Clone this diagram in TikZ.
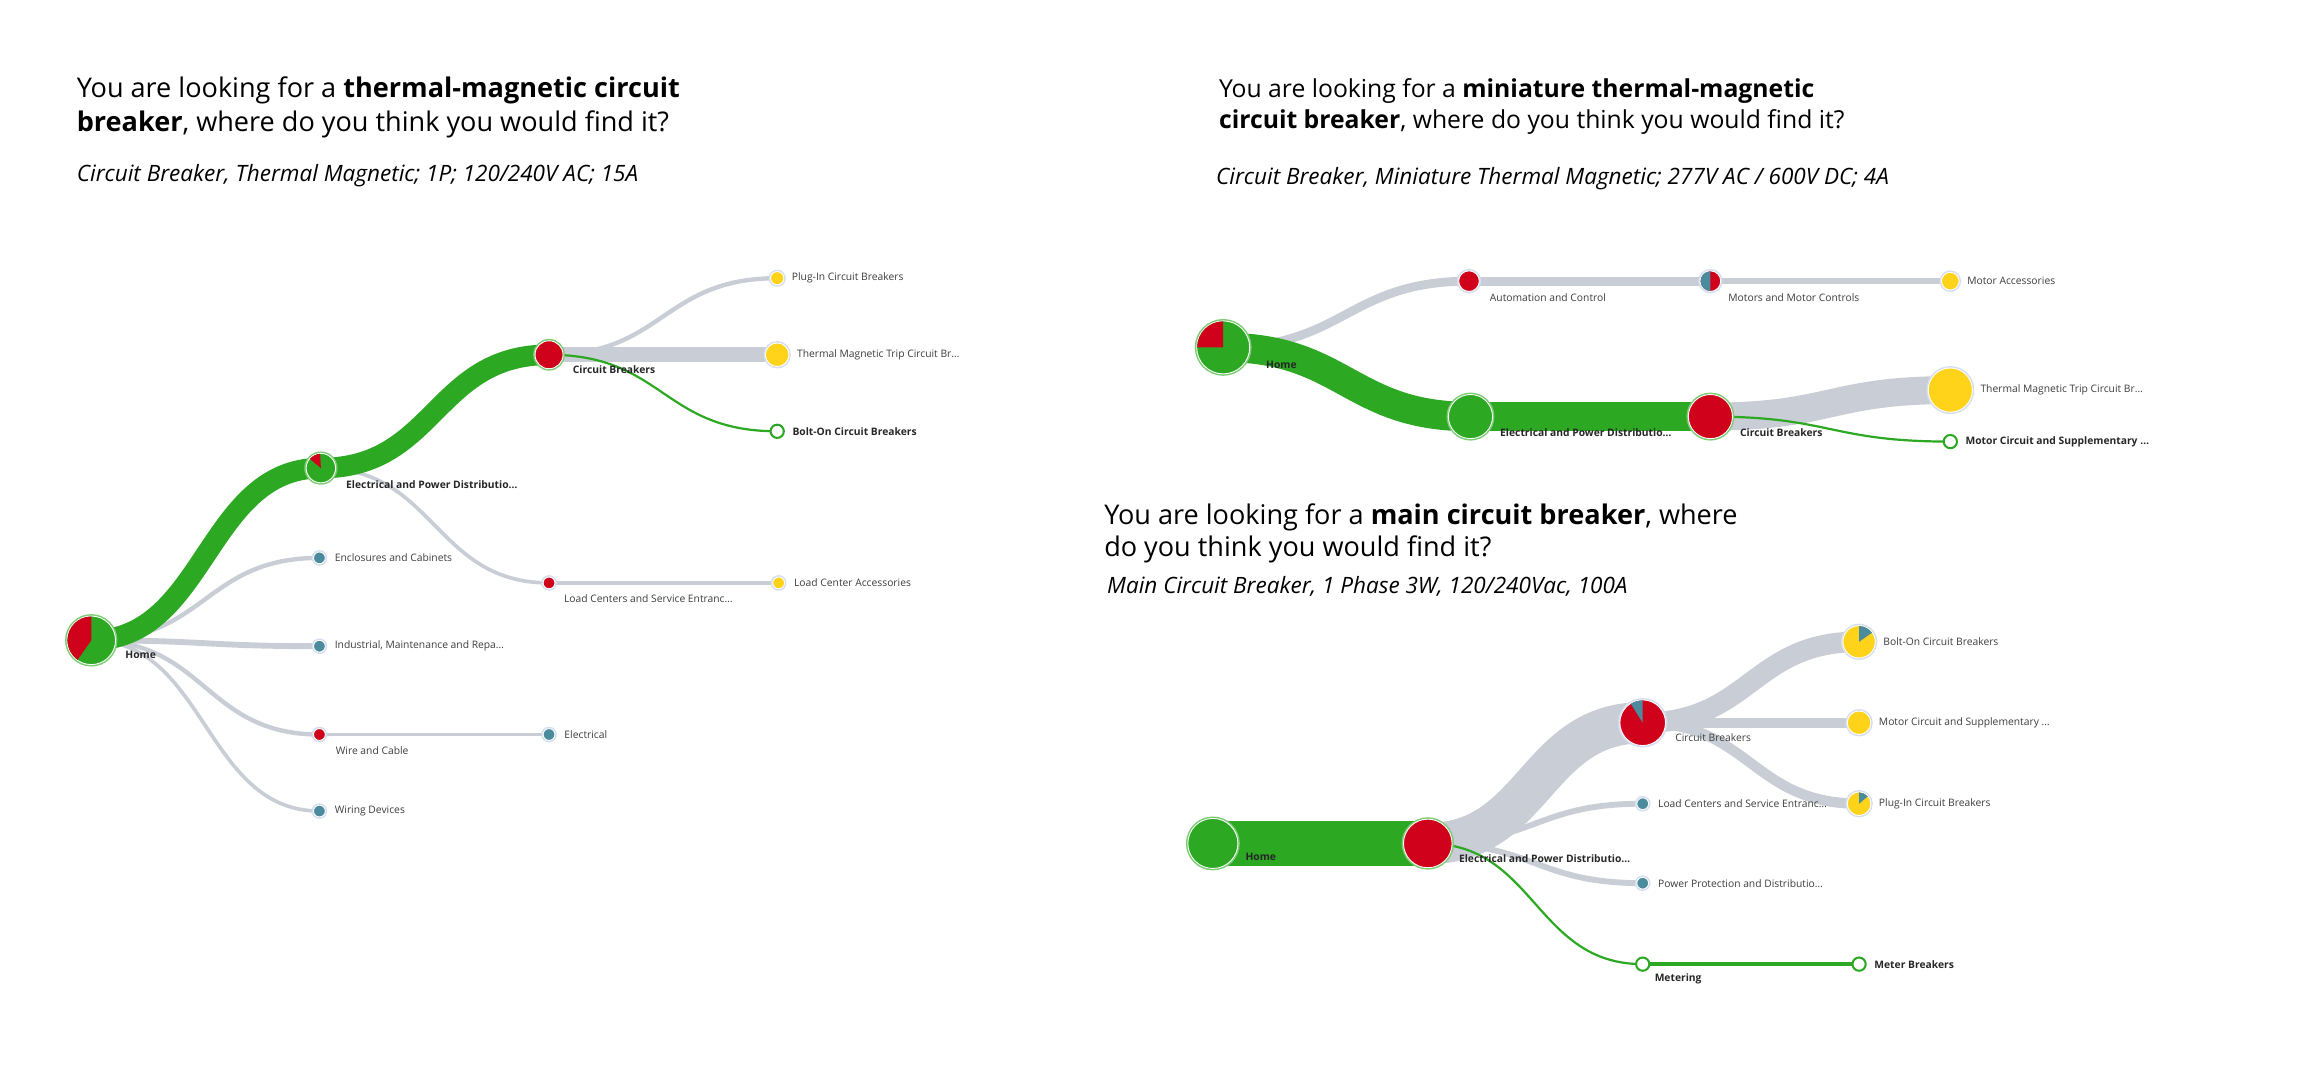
\documentclass[tikz,border=0pt]{standalone}
\usepackage{fontspec}
\setmainfont{Open Sans}
\usetikzlibrary{positioning}
\pgfdeclarelayer{bg}
\pgfsetlayers{bg,main}

\definecolor{cbgreen}{RGB}{44,168,35}
\definecolor{cbred}{RGB}{208,2,27}
\definecolor{cbyellow}{RGB}{255,211,26}
\definecolor{cbteal}{RGB}{74,139,158}
\definecolor{cbgray}{RGB}{201,206,214}
\definecolor{halogreen}{RGB}{122,203,114}
\definecolor{haloblue}{RGB}{213,222,238}
\definecolor{lblgray}{RGB}{60,60,60}

\tikzset{
  flow/.style={draw=cbgray},
  hit/.style={draw=cbgreen},
  dot/.style n args={3}{circle, inner sep=0pt, minimum size=#1, fill=#2,
    draw=white, line width=0.6pt, preaction={draw=#3, line width=2.6pt}},
  hollow/.style={circle, inner sep=0pt, minimum size=9pt, fill=white,
    draw=cbgreen, line width=1.4pt},
  lbl/.style={inner sep=1pt, text=lblgray, font=\fontsize{7}{8}\selectfont},
  lblb/.style={inner sep=1pt, text=black!85, font=\fontsize{7}{8}\selectfont\bfseries},
  quest/.style={anchor=base west, inner sep=0pt, font=\fontsize{18.4}{22}\selectfont},
  quests/.style={quest, font=\fontsize{16.8}{20}\selectfont},
  subq/.style={anchor=base west, inner sep=0pt, font=\fontsize{15.3}{18}\selectfont\itshape},
}

% komad pite: cvor, od, do, poluprecnik, boja
\newcommand{\pieslice}[5]{%
  \fill [#5] (#1.center) -- ++(#2:#4) arc [start angle=#2, end angle=#3, radius=#4] -- cycle;}

\begin{document}
\begin{tikzpicture}[x=1pt, y=-1pt]
    \useasboundingbox (0,0) rectangle (1568,724);

    % pitanja
    \node [quest] (aQ1) at (52,66) {You are looking for a \textbf{thermal-magnetic circuit}};
    \node [quest] (aQ2) at (52,89) {\textbf{breaker}, where do you think you would find it?};
    \node [subq] (aSub) at (52,123) {Circuit Breaker, Thermal Magnetic; 1P; 120/240V AC; 15A};
    \node [quests] (bQ1) at (828,66) {You are looking for a \textbf{miniature thermal-magnetic}};
    \node [quests] (bQ2) at (828,87) {\textbf{circuit breaker}, where do you think you would find it?};
    \node [subq] (bSub) at (826,125) {Circuit Breaker, Miniature Thermal Magnetic; 277V AC / 600V DC; 4A};
    \node [quest] (cQ1) at (750,356) {You are looking for a \textbf{main circuit breaker}, where};
    \node [quest] (cQ2) at (750,378) {do you think you would find it?};
    \node [subq] (cSub) at (752,403) {Main Circuit Breaker, 1 Phase 3W, 120/240Vac, 100A};

    % prvi dijagram
    \node [dot={33pt}{cbgreen}{halogreen}] (aHome) at (62,435) {};
    \node [dot={20pt}{cbgreen}{halogreen}] (aElec) at (218,318) {};
    \node [dot={19pt}{cbred}{halogreen}] (aCB) at (373,241) {};
    \node [dot={9pt}{cbyellow}{haloblue}] (aPlug) at (528,189) {};
    \node [dot={16pt}{cbyellow}{haloblue}] (aTherm) at (528,241) {};
    \node [hollow] (aBolt) at (528,293) {};
    \node [dot={8pt}{cbteal}{haloblue}] (aEncl) at (217,379) {};
    \node [dot={8pt}{cbred}{haloblue}] (aLoad) at (373,396) {};
    \node [dot={8pt}{cbyellow}{haloblue}] (aLoadAcc) at (529,396) {};
    \node [dot={8pt}{cbteal}{haloblue}] (aInd) at (217,439) {};
    \node [dot={8pt}{cbred}{haloblue}] (aWire) at (217,499) {};
    \node [dot={8pt}{cbteal}{haloblue}] (aElectr) at (373,499) {};
    \node [dot={8pt}{cbteal}{haloblue}] (aWiring) at (217,551) {};
    \pieslice{aHome}{90}{235}{16.2pt}{cbred}
    \pieslice{aElec}{93}{140}{9.7pt}{cbred}

    \node [lblb, anchor=west] (aHomeL) at (84,445) {Home};
    \node [lblb, anchor=west] (aElecL) at (234,329) {Electrical and Power Distributio\ldots};
    \node [lblb, anchor=west] (aCBL) at (388,251) {Circuit Breakers};
    \node [lbl, right=4pt of aPlug] (aPlugL) {Plug-In Circuit Breakers};
    \node [lbl, right=4pt of aTherm] (aThermL) {Thermal Magnetic Trip Circuit Br\ldots};
    \node [lblb, right=4pt of aBolt] (aBoltL) {Bolt-On Circuit Breakers};
    \node [lbl, right=5pt of aEncl] (aEnclL) {Enclosures and Cabinets};
    \node [lbl, anchor=west] (aLoadL) at (382,407) {Load Centers and Service Entranc\ldots};
    \node [lbl, right=5pt of aLoadAcc] (aLoadAccL) {Load Center Accessories};
    \node [lbl, right=5pt of aInd] (aIndL) {Industrial, Maintenance and Repa\ldots};
    \node [lbl, anchor=west] (aWireL) at (227,510) {Wire and Cable};
    \node [lbl, right=5pt of aElectr] (aElectrL) {Electrical};
    \node [lbl, right=5pt of aWiring] (aWiringL) {Wiring Devices};

    % drugi dijagram
    \node [dot={36pt}{cbgreen}{halogreen}] (bHome) at (831,236) {};
    \node [dot={14pt}{cbred}{haloblue}] (bAuto) at (998,191) {};
    \node [dot={14pt}{cbred}{haloblue}] (bMotors) at (1162,191) {};
    \node [dot={12pt}{cbyellow}{haloblue}] (bMotAcc) at (1325,191) {};
    \node [dot={30pt}{cbgreen}{halogreen}] (bElec) at (999,283) {};
    \node [dot={30pt}{cbred}{halogreen}] (bCB) at (1162,283) {};
    \node [dot={30pt}{cbyellow}{haloblue}] (bTherm) at (1325,265) {};
    \node [hollow] (bMotCirc) at (1325,300) {};
    \pieslice{bHome}{90}{180}{17.7pt}{cbred}
    \pieslice{bMotors}{90}{270}{6.7pt}{cbteal}

    \node [lblb, anchor=west] (bHomeL) at (859,248) {Home};
    \node [lbl, anchor=west] (bAutoL) at (1011,202) {Automation and Control};
    \node [lbl, anchor=west] (bMotorsL) at (1173,202) {Motors and Motor Controls};
    \node [lbl, right=4pt of bMotAcc] (bMotAccL) {Motor Accessories};
    \node [lblb, anchor=west] (bElecL) at (1018,294) {Electrical and Power Distributio\ldots};
    \node [lblb, anchor=west] (bCBL) at (1181,294) {Circuit Breakers};
    \node [lbl, right=4pt of bTherm] (bThermL) {Thermal Magnetic Trip Circuit Br\ldots};
    \node [lblb, right=4pt of bMotCirc] (bMotCircL) {Motor Circuit and Supplementary \ldots};

    % treci dijagram
    \node [dot={34pt}{cbgreen}{halogreen}] (cHome) at (824,573) {};
    \node [dot={33pt}{cbred}{halogreen}] (cElec) at (970,573) {};
    \node [dot={31pt}{cbred}{haloblue}] (cCB) at (1116,491) {};
    \node [dot={22pt}{cbyellow}{haloblue}] (cBolt) at (1263,436) {};
    \node [dot={16pt}{cbyellow}{haloblue}] (cMotCirc) at (1263,491) {};
    \node [dot={16pt}{cbyellow}{haloblue}] (cPlug) at (1263,546) {};
    \node [dot={8pt}{cbteal}{haloblue}] (cLoad) at (1116,546) {};
    \node [dot={8pt}{cbteal}{haloblue}] (cPower) at (1116,600) {};
    \node [hollow] (cMeter) at (1116,655) {};
    \node [hollow] (cMeterBr) at (1263,655) {};
    \pieslice{cCB}{90}{122}{15.2pt}{cbteal}
    \pieslice{cBolt}{35}{90}{10.7pt}{cbteal}
    \pieslice{cPlug}{40}{90}{7.7pt}{cbteal}

    \node [lblb, anchor=west] (cHomeL) at (845,582) {Home};
    \node [lblb, anchor=west] (cElecL) at (990,583) {Electrical and Power Distributio\ldots};
    \node [lbl, anchor=west] (cCBL) at (1137,501) {Circuit Breakers};
    \node [lbl, right=4pt of cBolt] (cBoltL) {Bolt-On Circuit Breakers};
    \node [lbl, right=4pt of cMotCirc] (cMotCircL) {Motor Circuit and Supplementary \ldots};
    \node [lbl, right=4pt of cPlug] (cPlugL) {Plug-In Circuit Breakers};
    \node [lbl, right=5pt of cLoad] (cLoadL) {Load Centers and Service Entranc\ldots};
    \node [lbl, right=5pt of cPower] (cPowerL) {Power Protection and Distributio\ldots};
    \node [lblb, anchor=west] (cMeterL) at (1123,665) {Metering};
    \node [lblb, right=4pt of cMeterBr] (cMeterBrL) {Meter Breakers};

    % tokovi ispod cvorova
    \begin{pgfonlayer}{bg}
    \foreach \a/\b/\w in {aHome/aEncl/3, aHome/aInd/4, aHome/aWire/3, aHome/aWiring/2.5,
        aElec/aLoad/2.5, aLoad/aLoadAcc/2.5, aWire/aElectr/2.5, aCB/aPlug/3, aCB/aTherm/10}{
        \draw [flow, line width=\w pt] (\a.center) .. controls +(78,0) and +(-78,0) .. (\b.center);
    }
    \foreach \a/\b/\w in {aHome/aElec/14, aElec/aCB/14, aCB/aBolt/1.5}{
        \draw [hit, line width=\w pt] (\a.center) .. controls +(78,0) and +(-78,0) .. (\b.center);
    }
    \foreach \a/\b/\w in {bHome/bAuto/6, bAuto/bMotors/6, bMotors/bMotAcc/4, bCB/bTherm/19}{
        \draw [flow, line width=\w pt] (\a.center) .. controls +(82,0) and +(-82,0) .. (\b.center);
    }
    \foreach \a/\b/\w in {bHome/bElec/20, bElec/bCB/20, bCB/bMotCirc/1.5}{
        \draw [hit, line width=\w pt] (\a.center) .. controls +(82,0) and +(-82,0) .. (\b.center);
    }
    \foreach \a/\b/\w in {cElec/cCB/28, cCB/cBolt/14, cCB/cMotCirc/7, cCB/cPlug/7,
        cElec/cLoad/4, cElec/cPower/4}{
        \draw [flow, line width=\w pt] (\a.center) .. controls +(73,0) and +(-73,0) .. (\b.center);
    }
    \foreach \a/\b/\w in {cHome/cElec/31, cElec/cMeter/1.5, cMeter/cMeterBr/2.5}{
        \draw [hit, line width=\w pt] (\a.center) .. controls +(73,0) and +(-73,0) .. (\b.center);
    }
    \end{pgfonlayer}
\end{tikzpicture}
\end{document}
